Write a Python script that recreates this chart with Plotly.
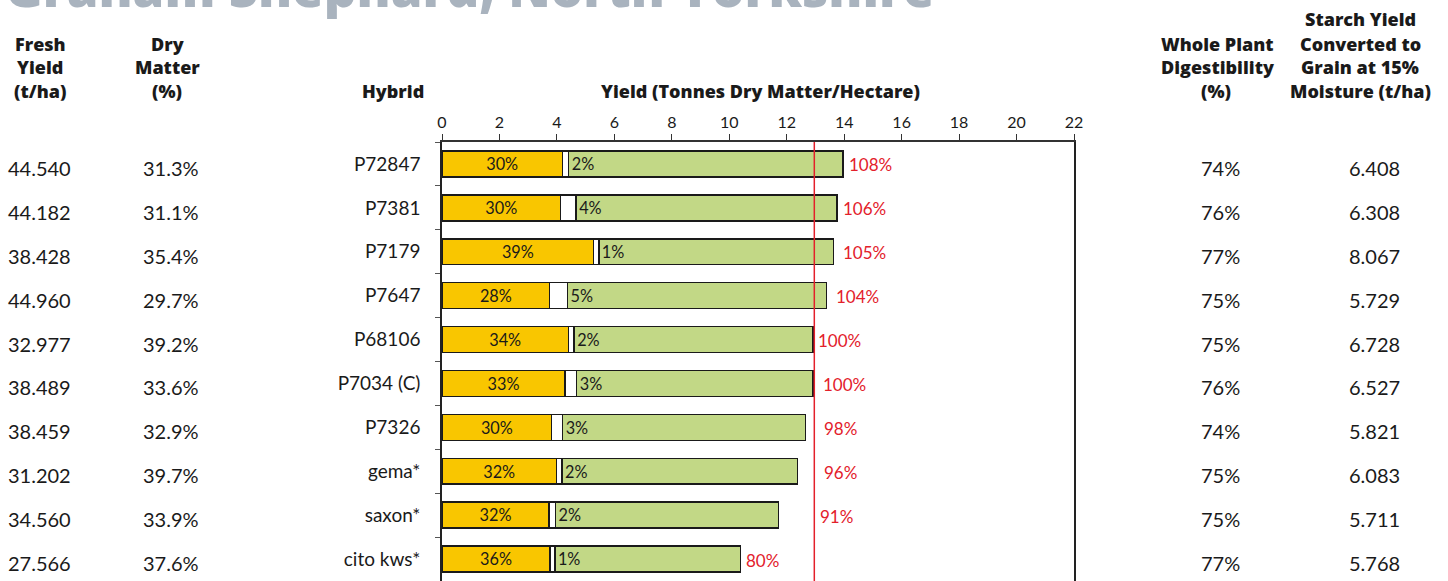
import plotly.graph_objects as go

# row data, top to bottom
hybrids = ["P72847", "P7381", "P7179", "P7647", "P68106", "P7034 (C)", "P7326", "gema*", "saxon*", "cito kws*"]
fresh_yield = ["44.540", "44.182", "38.428", "44.960", "32.977", "38.489", "38.459", "31.202", "34.560", "27.566"]
dry_matter = ["31.3%", "31.1%", "35.4%", "29.7%", "39.2%", "33.6%", "32.9%", "39.7%", "33.9%", "37.6%"]
digestibility = ["74%", "76%", "77%", "75%", "75%", "76%", "74%", "75%", "75%", "77%"]
starch_grain = ["6.408", "6.308", "8.067", "5.729", "6.728", "6.527", "5.821", "6.083", "5.711", "5.768"]

starch_pct = [30, 30, 39, 28, 34, 33, 30, 32, 32, 36]
sugar_pct = [2, 4, 1, 5, 2, 3, 3, 2, 2, 1]
relative_pct = [108, 106, 105, 104, 100, 100, 98, 96, 91, 80]

# t DM/ha
starch_t = [4.19, 4.13, 5.28, 3.75, 4.40, 4.28, 3.82, 3.98, 3.73, 3.76]
sugar_t = [0.22, 0.54, 0.18, 0.62, 0.20, 0.41, 0.38, 0.20, 0.22, 0.17]
total_t = [13.95, 13.75, 13.62, 13.39, 12.92, 12.92, 12.66, 12.38, 11.72, 10.39]
control_yield = 12.96

rest_t = [t - s - g for t, s, g in zip(total_t, starch_t, sugar_t)]

W, H = 1448, 581
L, R, T, B = 442, 1074, 142, 581
FONT = "Lato"
HEAD = "Open Sans"
DARK = "#1a1a1a"
RED = "#E3202B"


def px(X):
    return (X - L) / (R - L)


def py(Y):
    return (B - Y) / (B - T)


fig = go.Figure()
outline = dict(color=DARK, width=1.5)
fig.add_bar(y=hybrids, x=starch_t, orientation="h",
            marker=dict(color="#F9C600", line=outline),
            text=[f"{p}%" for p in starch_pct], textposition="inside",
            insidetextanchor="middle", textangle=0,
            textfont=dict(size=18, color=DARK, family=FONT))
fig.add_bar(y=hybrids, x=sugar_t, orientation="h",
            marker=dict(color="white", line=outline))
fig.add_bar(y=hybrids, x=rest_t, orientation="h",
            marker=dict(color="#C2D886", line=outline),
            text=[f"{p}%" for p in sugar_pct], textposition="inside",
            insidetextanchor="start", textangle=0,
            textfont=dict(size=18, color=DARK, family=FONT))

# control line
fig.add_shape(type="line", xref="x", yref="paper", x0=control_yield, x1=control_yield,
              y0=0, y1=1, line=dict(color=RED, width=1.5))

ann = []
# relative yield labels
gaps = [4, 4, 8, 7, 3, 8, 16, 24, 39, 4]
for h, t, r, g in zip(hybrids, total_t, relative_pct, gaps):
    ann.append(dict(x=t, y=h, xref="x", yref="y", xanchor="left", xshift=g, yshift=-1,
                    text=f"{r}%", showarrow=False,
                    font=dict(size=17, color=RED, family=FONT)))

# table columns
cols = [(fresh_yield, 6), (dry_matter, 141), (digestibility, 1199), (starch_grain, 1347)]
for vals, x0 in cols:
    for h, v in zip(hybrids, vals):
        ann.append(dict(x=px(x0), y=h, xref="paper", yref="y", xanchor="left", yshift=-4,
                        text=v, showarrow=False,
                        font=dict(size=20, color=DARK, family=FONT)))

# headers (one annotation per line)
headers = [
    ("Fresh", 40, 44), ("Yield", 40, 67), ("(t/ha)", 40, 91),
    ("Dry", 167, 44), ("Matter", 167, 67), ("(%)", 167, 91),
    ("Hybrid", 393, 91),
    ("Yield (Tonnes Dry Matter/Hectare)", 760, 91),
    ("Whole Plant", 1217, 44), ("Digestibility", 1217, 67), ("(%)", 1216, 91),
    ("Starch Yield", 1360, 19), ("Converted to", 1360, 44),
    ("Grain at 15%", 1360, 67), ("Moisture (t/ha)", 1360, 91),
]
for txt, xc, yc in headers:
    ann.append(dict(x=px(xc), y=py(yc), xref="paper", yref="paper",
                    xanchor="center", yanchor="middle", text=txt, showarrow=False,
                    font=dict(size=18, color=DARK, family=HEAD, weight=800)))

# site title, cut off at the top of the page
ann.append(dict(x=px(3), y=py(24), xref="paper", yref="paper", xanchor="left",
                yanchor="bottom", text="Graham Shephard, North Yorkshire", showarrow=False,
                font=dict(size=51, color="#A9B3BE", family=HEAD, weight=800)))

fig.update_layout(
    width=W, height=H,
    margin=dict(l=L, r=W - R, t=T, b=H - B),
    barmode="stack", bargap=0.41,
    showlegend=False,
    plot_bgcolor="white", paper_bgcolor="white",
    font=dict(family=FONT, color=DARK),
    annotations=ann,
)
fig.update_xaxes(range=[0, 22], dtick=2, side="top", showgrid=False, zeroline=False,
                 showline=True, linecolor="#333", linewidth=1.5,
                 ticks="outside", ticklen=6, tickcolor="#333",
                 tickfont=dict(size=16, color=DARK, family=FONT))
fig.update_yaxes(type="category", autorange="reversed", showgrid=False,
                 showline=True, mirror=True, linecolor="#222", linewidth=1.5,
                 ticks="outside", tickson="boundaries", ticklen=5, tickcolor="#555",
                 ticklabelstandoff=16,
                 tickfont=dict(size=19, color=DARK, family=FONT))

fig.write_html("out.html", config={"displayModeBar": False},
               post_script="document.body.style.margin='0';")
